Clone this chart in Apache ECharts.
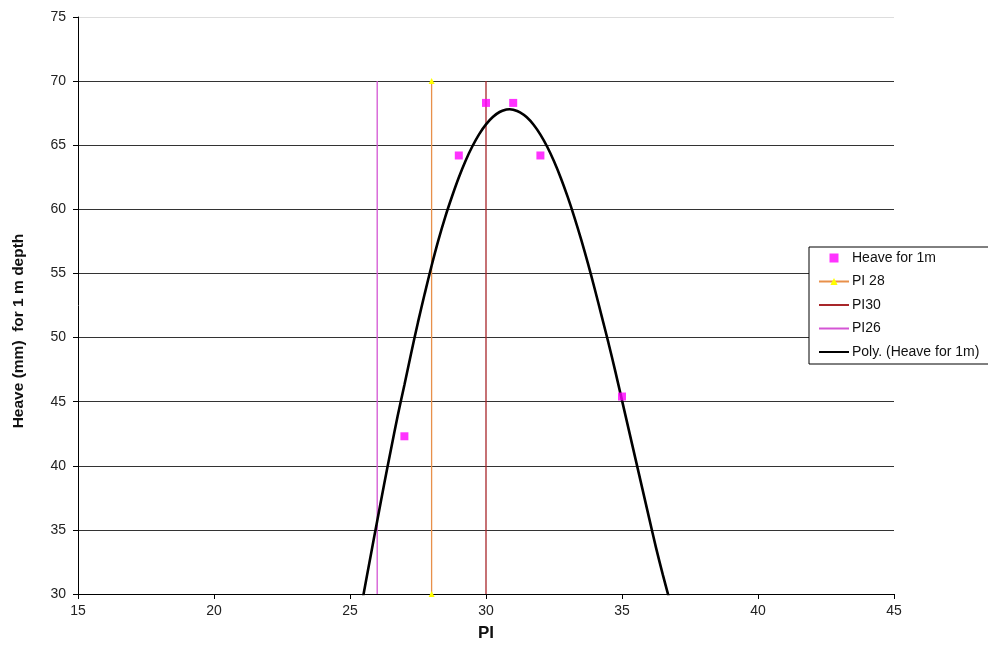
<!DOCTYPE html>
<html>
<head>
<meta charset="utf-8">
<title>Heave vs PI</title>
<script src="https://cdn.jsdelivr.net/npm/echarts@6/dist/echarts.min.js"></script>
<style>
  html, body { margin: 0; padding: 0; background: #fff; }
  #chart { width: 988px; height: 652px; }
</style>
</head>
<body>
<div id="chart"></div>
<script>
// Measured heave for 1 m depth against plasticity index
const piValues = [27, 29, 30, 31, 32, 35];
const heaveValues = [42.3, 64.2, 68.3, 68.3, 64.2, 45.4];

// Polynomial trendline through the measurements, sampled along the fitted curve
const polyX = [25.45, 25.5, 25.75, 26.0, 26.25, 26.5, 26.75, 27.0, 27.25, 27.5, 27.75, 28.0, 28.25, 28.5, 28.75,
               29.0, 29.25, 29.5, 29.75, 30.0, 30.25, 30.5, 30.75, 30.87, 31.0, 31.25, 31.5, 31.75, 32.0,
               32.25, 32.5, 32.75, 33.0, 33.25, 33.5, 33.75, 34.0, 34.25, 34.5, 34.75, 35.0, 35.25, 35.5,
               35.75, 36.0, 36.25, 36.5, 36.75];
const polyY = [29.42, 30.0, 32.87, 35.7, 38.5, 41.22, 43.87, 46.3, 48.8, 51.2, 53.45, 55.6, 57.6, 59.4, 61.0,
               62.48, 63.79, 64.92, 65.87, 66.63, 67.2, 67.59, 67.78, 67.8, 67.77, 67.57, 67.18, 66.6, 65.83,
               64.88, 63.75, 62.45, 60.99, 59.38, 57.64, 55.76, 53.77, 51.69, 49.6, 47.4, 45.1, 42.8, 40.5,
               38.2, 35.9, 33.62, 31.51, 29.52];

// Vertical reference lines at selected PI values
const refNames = ['PI 28', 'PI30', 'PI26'];
const refX = [28, 30, 26];
const refY = [30, 70];

// Axis ranges
const xMin = 15, xMax = 45, xStep = 5;
const yMin = 30, yMax = 75, yStep = 5;

const refColors = ['#e8904a', '#a8262a', '#d455d4'];
const font = 'Arial, "Liberation Sans", sans-serif';

const chart = echarts.init(document.getElementById('chart'), null, { renderer: 'canvas' });

const refSeries = refNames.map((name, i) => ({
  name: name,
  type: 'line',
  data: refY.map(y => [refX[i], y]),
  symbol: i === 0 ? 'triangle' : 'none',
  symbolSize: 6,
  showSymbol: i === 0,
  itemStyle: { color: i === 0 ? '#ffff00' : refColors[i] },
  lineStyle: { color: refColors[i], width: 1.3 },
  z: 2
}));

// Line entries without markers show only their stroke in the legend
const hiddenMarker = { opacity: 0 };

chart.setOption({
  animation: false,
  backgroundColor: '#ffffff',
  grid: { left: 78, right: 94, top: 17, bottom: 58, containLabel: false },
  xAxis: {
    type: 'value',
    min: xMin, max: xMax, interval: xStep,
    name: 'PI',
    nameLocation: 'middle',
    nameGap: 31,
    nameTextStyle: { fontFamily: font, fontWeight: 'bold', fontSize: 17, color: '#111' },
    axisLine: { show: true, lineStyle: { color: '#000', width: 1 } },
    axisTick: { show: true, length: 5, lineStyle: { color: '#000' } },
    axisLabel: { fontFamily: font, fontSize: 14, color: '#222', margin: 10 },
    splitLine: { show: false }
  },
  yAxis: {
    type: 'value',
    min: yMin, max: yMax, interval: yStep,
    axisLine: { show: true, onZero: false, lineStyle: { color: '#000', width: 1 } },
    axisTick: { show: true, length: 5, lineStyle: { color: '#000' } },
    axisLabel: { fontFamily: font, fontSize: 14, color: '#222', margin: 12 },
    splitLine: {
      show: true,
      lineStyle: { color: ['#000', '#333', '#333', '#333', '#333', '#333', '#333', '#333', '#333', '#dddddd'], width: 1 }
    }
  },
  legend: {
    orient: 'vertical',
    left: 809,
    top: 247,
    backgroundColor: '#fff',
    borderColor: '#000',
    borderWidth: 1,
    borderRadius: 0,
    padding: [4, 14, 5, 9],
    itemWidth: 30,
    itemHeight: 9,
    itemGap: 9.5,
    symbolKeepAspect: true,
    textStyle: { fontFamily: font, fontSize: 14, color: '#111', lineHeight: 14, padding: [0, 0, 0, -2] },
    data: [
      { name: 'Heave for 1m', icon: 'path://M0,0L1,0L1,1L0,1Z' },
      { name: 'PI 28' },
      { name: 'PI30', itemStyle: hiddenMarker },
      { name: 'PI26', itemStyle: hiddenMarker },
      { name: 'Poly. (Heave for 1m)', itemStyle: hiddenMarker }
    ]
  },
  graphic: [{
    type: 'text',
    x: 18.5,
    y: 331,
    rotation: Math.PI / 2,
    style: {
      text: 'Heave (mm)  for 1 m depth',
      fontFamily: font,
      fontWeight: 'bold',
      fontSize: 15.5,
      fill: '#111',
      align: 'center',
      verticalAlign: 'middle'
    }
  }],
  series: [
    {
      name: 'Heave for 1m',
      type: 'scatter',
      data: piValues.map((x, i) => [x, heaveValues[i]]),
      symbol: 'rect',
      symbolSize: 8,
      itemStyle: { color: '#ff00ff' },
      z: 5
    },
    ...refSeries,
    {
      name: 'Poly. (Heave for 1m)',
      type: 'line',
      data: polyX.map((x, i) => [x, polyY[i]]),
      smooth: 0.3,
      symbol: 'none',
      clip: true,
      itemStyle: { color: '#000' },
      lineStyle: { color: '#000', width: 2.6 },
      z: 4
    }
  ]
});
</script>
</body>
</html>
